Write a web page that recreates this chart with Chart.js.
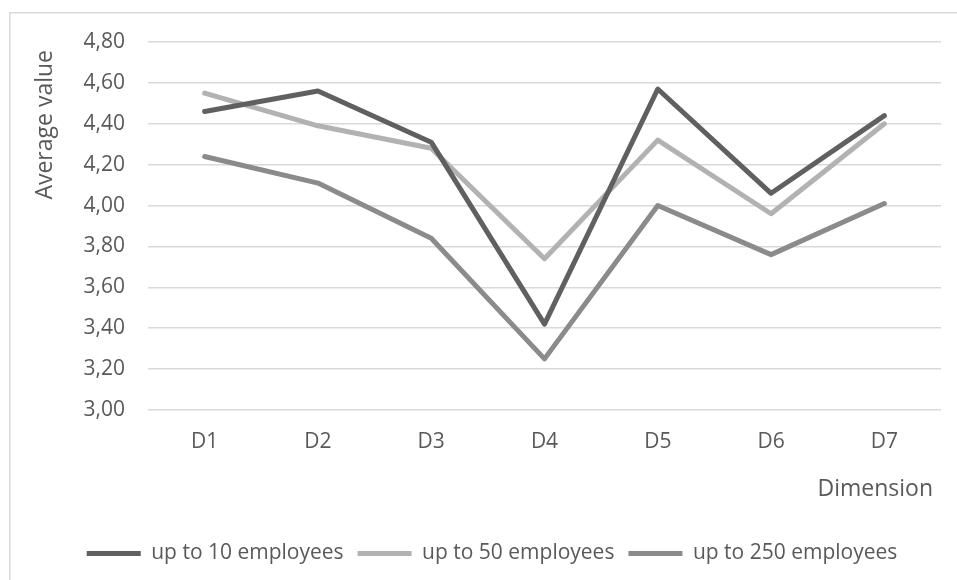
<!DOCTYPE html>
<html>
<head>
<meta charset="utf-8">
<script src="https://cdn.jsdelivr.net/npm/chart.js@4/dist/chart.umd.min.js"></script>
<style>
  html, body { margin: 0; padding: 0; background: #ffffff; overflow: hidden; }
  #wrap { position: relative; width: 957px; height: 580px; }
</style>
</head>
<body>
<div id="wrap"><canvas id="chart" width="957" height="580"></canvas></div>
<script>
// Average value per dimension, grouped by company size
const dimensions = ['D1', 'D2', 'D3', 'D4', 'D5', 'D6', 'D7'];
const seriesNames = ['up to 10 employees', 'up to 50 employees', 'up to 250 employees'];
const upTo10 = [4.46, 4.56, 4.31, 3.42, 4.57, 4.06, 4.44];
const upTo50 = [4.55, 4.39, 4.28, 3.74, 4.32, 3.96, 4.40];
const upTo250 = [4.24, 4.11, 3.84, 3.25, 4.00, 3.76, 4.01];
const yTitle = 'Average value';
const xTitle = 'Dimension';

const TEXT = '#595959';
const FONT = "'Open Sans', 'DejaVu Sans', sans-serif";

// Outer frame of the chart area
const framePlugin = {
  id: 'frame',
  beforeDraw(chart) {
    const ctx = chart.ctx;
    ctx.save();
    ctx.fillStyle = '#ffffff';
    ctx.fillRect(0, 0, chart.width, chart.height);
    ctx.strokeStyle = '#d9d9d9';
    ctx.lineWidth = 1.5;
    ctx.strokeRect(9.75, 12.75, chart.width + 20, chart.height + 20);
    ctx.restore();
  }
};

// Axis titles: vertical one top-aligned, horizontal one right-aligned below the labels
const axisTitlePlugin = {
  id: 'axisTitles',
  afterDraw(chart) {
    const ctx = chart.ctx;
    const area = chart.chartArea;
    ctx.save();
    ctx.fillStyle = TEXT;
    ctx.font = '23px ' + FONT;
    ctx.textBaseline = 'middle';
    // vertical title
    ctx.save();
    ctx.translate(area.left - 103, area.top + 8);
    ctx.rotate(-Math.PI / 2);
    ctx.textAlign = 'right';
    ctx.fillText(yTitle, 0, 0);
    ctx.restore();
    // horizontal title
    ctx.textAlign = 'right';
    ctx.fillText(xTitle, area.right - 8, area.bottom + 79);
    ctx.restore();
  }
};

const makeSet = (label, data, color) => ({
  label,
  data,
  borderColor: color,
  backgroundColor: color,
  borderWidth: 5,
  borderCapStyle: 'round',
  borderJoinStyle: 'round',
  pointRadius: 0,
  pointHoverRadius: 0,
  pointStyle: 'line',
  tension: 0,
  fill: false
});

new Chart(document.getElementById('chart'), {
  type: 'line',
  data: {
    labels: dimensions,
    datasets: [
      makeSet(seriesNames[0], upTo10, '#606060'),
      makeSet(seriesNames[1], upTo50, '#b2b2b2'),
      makeSet(seriesNames[2], upTo250, '#8b8b8b')
    ]
  },
  options: {
    responsive: false,
    animation: false,
    devicePixelRatio: 1,
    layout: { padding: { top: 42, left: 43, right: 16, bottom: 6 } },
    plugins: {
      legend: {
        position: 'bottom',
        labels: {
          usePointStyle: true,
          pointStyleWidth: 54,
          boxHeight: 5,
          padding: 14,
          color: TEXT,
          font: { family: FONT, size: 21 }
        }
      },
      tooltip: { enabled: false }
    },
    scales: {
      x: {
        offset: true,
        grid: { display: false, drawTicks: false },
        border: { display: false },
        ticks: { color: TEXT, font: { family: FONT, size: 21 }, padding: 19 },
        afterFit(scale) {
          const leg = scale.chart.legend;
          const lh = leg ? leg.height : 40;
          scale.height = 580 - 6 - lh - 410;
        }
      },
      y: {
        min: 3,
        max: 4.8,
        grid: { color: '#d9d9d9', lineWidth: 1.5, drawTicks: false },
        border: { display: false },
        ticks: {
          stepSize: 0.2,
          padding: 23,
          color: TEXT,
          font: { family: FONT, size: 21 },
          callback: (v) => Number(v).toFixed(2).replace('.', ',')
        },
        afterFit(scale) { scale.width = 105; }
      }
    }
  },
  plugins: [framePlugin, axisTitlePlugin]
});
</script>
</body>
</html>
